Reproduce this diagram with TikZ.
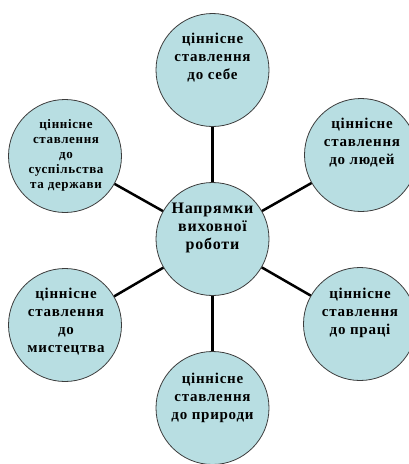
\documentclass[tikz,border=0pt]{standalone}
\usepackage{fontspec}
\setmainfont{Liberation Serif}[LetterSpace=5]
\definecolor{bubblefill}{RGB}{184,222,226}
\definecolor{bubbleline}{RGB}{60,60,60}
\begin{document}
\begin{tikzpicture}[x=1pt,y=-1pt,
  bubble/.style={circle,draw=bubbleline,line width=0.8pt,fill=bubblefill,minimum size=113pt,inner sep=0pt},
  txt/.style={align=center,font=\bfseries\fontsize{15}{18}\selectfont,inner sep=0pt},
  smalltxt/.style={align=center,font=\bfseries\fontsize{13}{15}\selectfont,inner sep=0pt},
  bigtxt/.style={align=center,font=\bfseries\fontsize{16}{18}\selectfont,inner sep=0pt},
  conn/.style={line width=2.5pt,black}]
\useasboundingbox (0,0) rectangle (409,464);
\begin{scope}
\clip (0,0) rectangle (409,464);
\node[bubble] (c) at (212.5,239) {};
\node[bubble] (t) at (212.5,70) {};
\node[bubble] (tr) at (361,155) {};
\node[bubble] (tl) at (65,156) {};
\node[bubble] (bl) at (65,325) {};
\node[bubble] (br) at (360,324) {};
\node[bubble] (b) at (212.5,408) {};
\draw[conn] (c) -- (t);
\draw[conn] (c) -- (tr);
\draw[conn] (c) -- (tl);
\draw[conn] (c) -- (bl);
\draw[conn] (c) -- (br);
\draw[conn] (c) -- (b);
\end{scope}
\node[bigtxt] (ct) at ([yshift=11pt]c.center) {Напрямки\\виховної\\роботи};
\node[txt] (tt) at ([yshift=12pt]t.center) {ціннісне\\ставлення\\до себе};
\node[txt] (trt) at ([yshift=12pt,xshift=1pt]tr.center) {ціннісне\\ставлення\\до людей};
\node[smalltxt] (tlt) at ([yshift=1pt,xshift=1pt]tl.center) {ціннісне\\ставлення\\до\\суспільства\\та держави};
\node[txt] (blt) at ([yshift=3pt,xshift=1pt]bl.center) {ціннісне\\ставлення\\до\\мистецтва};
\node[txt] (brt) at ([yshift=11pt]br.center) {ціннісне\\ставлення\\до праці};
\node[txt] (bt) at ([yshift=10pt]b.center) {ціннісне\\ставлення\\до природи};
\end{tikzpicture}
\end{document}
